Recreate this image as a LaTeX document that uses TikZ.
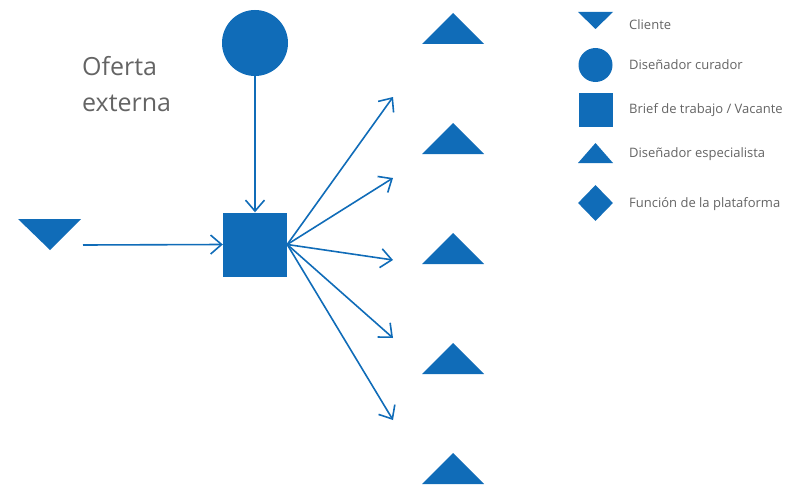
\documentclass[tikz,border=0pt]{standalone}
\usepackage{fontspec}
\setmainfont{Open Sans}
\usetikzlibrary{arrows.meta,shapes.geometric}
\definecolor{azul}{RGB}{16,108,184}
\definecolor{gris}{RGB}{100,100,100}
\tikzset{
  forma/.style={fill=azul, draw=none, inner sep=0pt},
  flecha/.style={draw=azul, line width=1.6pt, -{Straight Barb[length=11pt,width=19pt,line width=1.6pt]}},
  leyenda/.style={anchor=west, text=gris, font=\fontsize{13}{15}\selectfont, inner sep=0pt},
}
\begin{document}
\begin{tikzpicture}[x=1pt,y=-1pt]
\useasboundingbox (0,0) rectangle (795,495);

%main nodes
\node[forma, circle, minimum size=66pt] (curador) at (255,43) {};
\node[forma, rectangle, minimum size=64pt] (brief) at (255,244.5) {};
\node[anchor=north west, align=left, text=gris, inner sep=0pt,
      font=\fontsize{25}{36}\selectfont] (oferta) at (82,56) {Oferta\\externa};

%cliente
\fill[azul] (18,219) -- (81,219) -- (50,250) -- cycle;
\coordinate (cli) at (83,245);

%arrows in
\draw[flecha] (cli) -- (brief.west);
\draw[flecha] (curador.south) -- (brief.north);

%arrows out
\foreach \y [count=\i] in {97,178,260,338,420}{
  \coordinate (d\i) at (393,\y);
  \draw[flecha] (brief.east) -- (d\i);
}

%especialistas
\foreach \y in {13,123,233,343,453}
  \fill[azul] (422,\y+31) -- (453,\y) -- (484,\y+31) -- cycle;

%legend
\fill[azul] (578,12) -- (613,12) -- (595.5,29) -- cycle;
\node[forma, circle, minimum size=34pt] (leycur) at (595.5,65) {};
\node[forma, rectangle, minimum size=34pt] (leybrief) at (595.5,110) {};
\fill[azul] (578,163) -- (595.5,143) -- (613,163) -- cycle;
\node[forma, diamond, minimum width=35pt, minimum height=36pt] (leyfun) at (595.5,203) {};

\node[leyenda] (txtcli) at (629,25) {Cliente};
\node[leyenda] (txtcur) at (629,65) {Diseñador curador};
\node[leyenda] (txtbrief) at (629,110) {Brief de trabajo / Vacante};
\node[leyenda] (txtesp) at (629,154) {Diseñador especialista};
\node[leyenda] (txtfun) at (629,204) {Función de la plataforma};

\end{tikzpicture}
\end{document}
